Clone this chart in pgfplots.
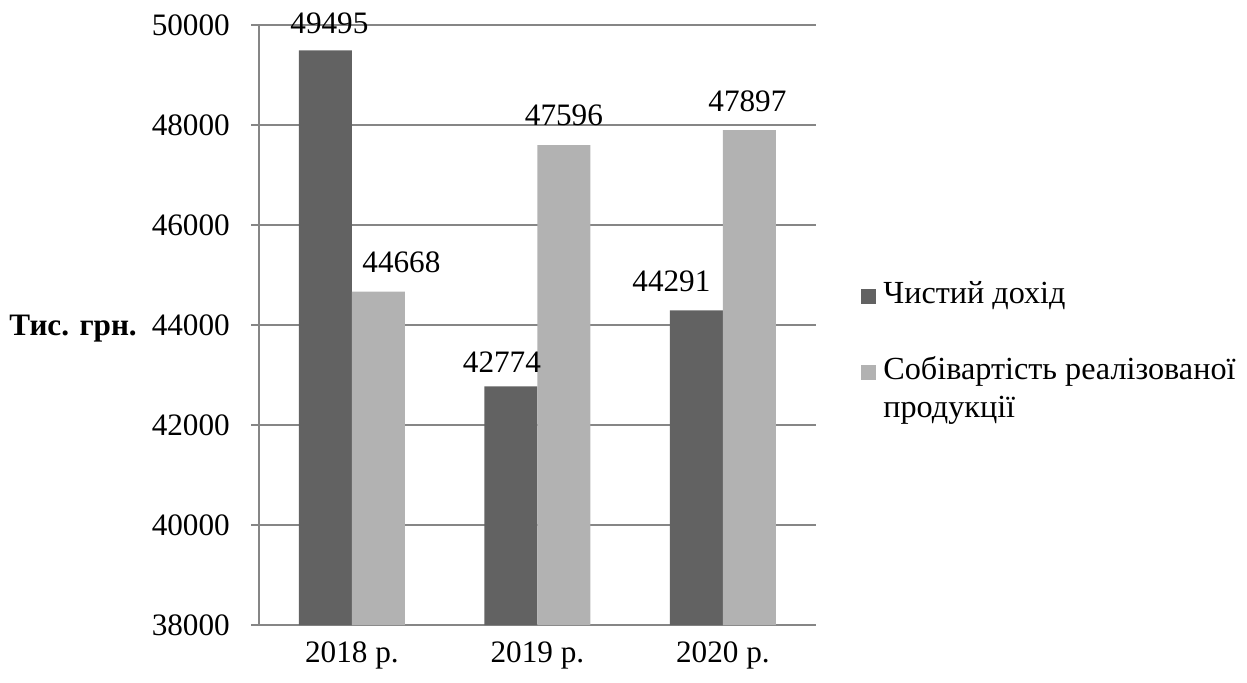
\documentclass[border=0pt]{standalone}
\usepackage{fontspec}
\setmainfont{Liberation Serif}
\usepackage{pgfplots}
\usepackage{pgfplotstable}
\pgfplotsset{compat=1.18}
\definecolor{darkbar}{HTML}{626262}
\definecolor{lightbar}{HTML}{B2B2B2}
\definecolor{axgray}{HTML}{868686}
\newcommand\fs{\fontsize{15.6}{18}\selectfont}
\newcommand\fl{\fontsize{16.1}{18}\selectfont}

\pgfplotstableread{
x y dx dy
0 49495 2 8.5
1 42774 -4.5 7
2 44291 -12.5 9.5
}\dohid
\pgfplotstableread{
x y dx dy
0 44668 11.5 9.5
1 47596 0 10
2 47897 -1 9.5
}\sobiv

\begin{document}
\begin{tikzpicture}
\path[use as bounding box] (-129.6pt,-28.5pt) rectangle (493.9pt,312.5pt);
\begin{axis}[
  at={(0pt,0pt)}, anchor=south west,
  scale only axis, width=278.25pt, height=300pt,
  xmin=-0.5, xmax=2.5, ymin=38000, ymax=50000,
  ybar=0pt, bar width=26.5pt,
  xtick={0,1,2}, xticklabels={2018 р.,2019 р.,2020 р.},
  ytick={38000,40000,...,50000},
  scaled y ticks=false,
  /pgf/number format/1000 sep={},
  /pgf/number format/assume math mode=true,
  axis lines*=left,
  axis line style={axgray, line width=0.8pt},
  ymajorgrids, grid style={axgray, line width=0.8pt},
  tick align=outside,
  major tick length=4pt,
  ytick style={axgray, line width=0.8pt},
  xtick style={draw=none},
  tick label style={font=\fs, black},
  xticklabel style={anchor=base, yshift=-14.5pt, inner sep=0pt},
  yticklabel style={anchor=east, xshift=-10.5pt, inner sep=0pt},
  every axis y label/.style={at={(axis description cs:-0.2192,0.5)}, anchor=base east, yshift=-5.3pt, inner sep=0pt, font=\fs\bfseries},
  ylabel={Тис. грн.},
  clip=false,
  legend style={at={(axis description cs:1.0814,0.58)}, anchor=north west, draw=none, fill=none, inner sep=0pt, row sep=0pt, column sep=3.5pt, font=\fl, nodes={inner sep=0pt, text height=13.25pt, text depth=5.75pt}},
  legend cell align=left,
  legend image code/.code={\fill[#1] (0pt,-3.75pt) rectangle (7.5pt,3.75pt);},
]
\addplot[fill=darkbar, draw=none, nodes near coords,
  visualization depends on={\thisrow{dx} \as \dx},
  visualization depends on={\thisrow{dy} \as \dy},
  every node near coord/.append style={font=\fs, black, anchor=base, xshift=\dx pt, yshift=\dy pt, inner sep=0pt}]
  table[x=x,y=y]{\dohid};
\addlegendentry{Чистий дохід}
\addlegendimage{empty legend}
\addlegendentry{}
\addplot[fill=lightbar, draw=none, nodes near coords,
  visualization depends on={\thisrow{dx} \as \dx},
  visualization depends on={\thisrow{dy} \as \dy},
  every node near coord/.append style={font=\fs, black, anchor=base, xshift=\dx pt, yshift=\dy pt, inner sep=0pt}]
  table[x=x,y=y]{\sobiv};
\addlegendentry{Собівартість реалізованої}
\addlegendimage{empty legend}
\addlegendentry{продукції}
\end{axis}
\end{tikzpicture}
\end{document}
